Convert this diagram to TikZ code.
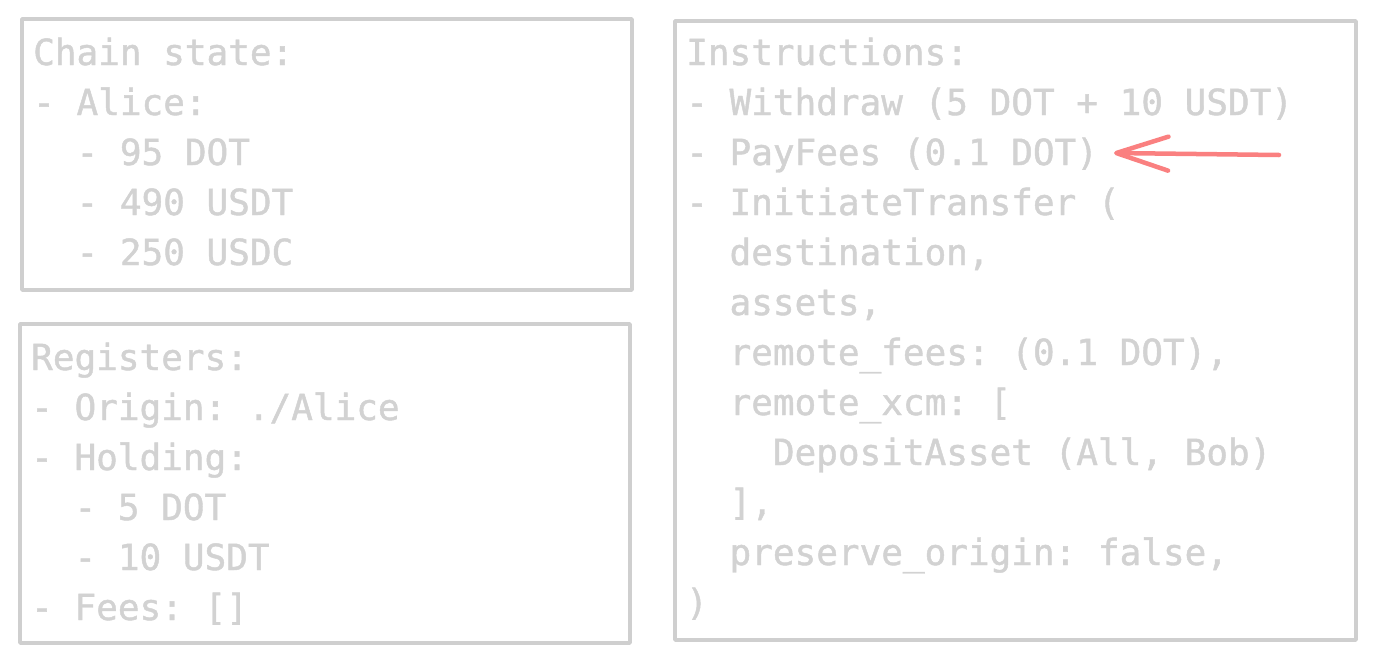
\documentclass[tikz,border=0pt]{standalone}
\usepackage{fontspec}
\setmonofont[FakeBold=1.2]{DejaVu Sans Mono}
\usetikzlibrary{arrows.meta}
\definecolor{boxgray}{HTML}{CFCFCF}
\definecolor{txtgray}{HTML}{D2D2D2}
\definecolor{arrowred}{HTML}{FA8080}
\tikzset{
  panel/.style={draw=boxgray, line width=3.5pt, line join=round, fill=white},
  listing/.style={anchor=base west, align=left, inner sep=0pt, text=txtgray,
    font=\ttfamily\fontsize{36pt}{50pt}\selectfont},
  pointer/.style={draw=arrowred, line width=4.5pt, line cap=round,
    -{Straight Barb[length=52pt, width=34pt, round]}}
}
\newcommand{\ind}[1]{\phantom{#1}}
\begin{document}
\begin{tikzpicture}[x=1pt, y=-1pt]
\useasboundingbox (0,0) rectangle (1375,664);
% boxes
\draw[panel] (22,19) rectangle (632,290);
\draw[panel] (20,324) rectangle (630,643);
\draw[panel] (675,21) rectangle (1356,640);
% texts (anchored at the baseline of their last line)
\node[listing] (chain) at (33,265) {Chain state:\\
- Alice:\\
\ind{xx}- 95 DOT\\
\ind{xx}- 490 USDT\\
\ind{xx}- 250 USDC};
\node[listing] (regs) at (31,620) {Registers:\\
- Origin: ./Alice\\
- Holding:\\
\ind{xx}- 5 DOT\\
\ind{xx}- 10 USDT\\
- Fees: []};
\node[listing] (instr) at (686,615) {Instructions:\\
- Withdraw (5 DOT + 10 USDT)\\
- PayFees (0.1 DOT)\\
- InitiateTransfer (\\
\ind{xx}destination,\\
\ind{xx}assets,\\
\ind{xx}remote\_fees: (0.1 DOT),\\
\ind{xx}remote\_xcm: [\\
\ind{xxxx}DepositAsset (All, Bob)\\
\ind{xx}],\\
\ind{xx}preserve\_origin: false,\\
)};
% arrow
\coordinate (arrowstart) at (1279,155);
\coordinate (arrowtip) at (1114,153);
\draw[pointer] (arrowstart) -- (arrowtip);
\end{tikzpicture}
\end{document}
